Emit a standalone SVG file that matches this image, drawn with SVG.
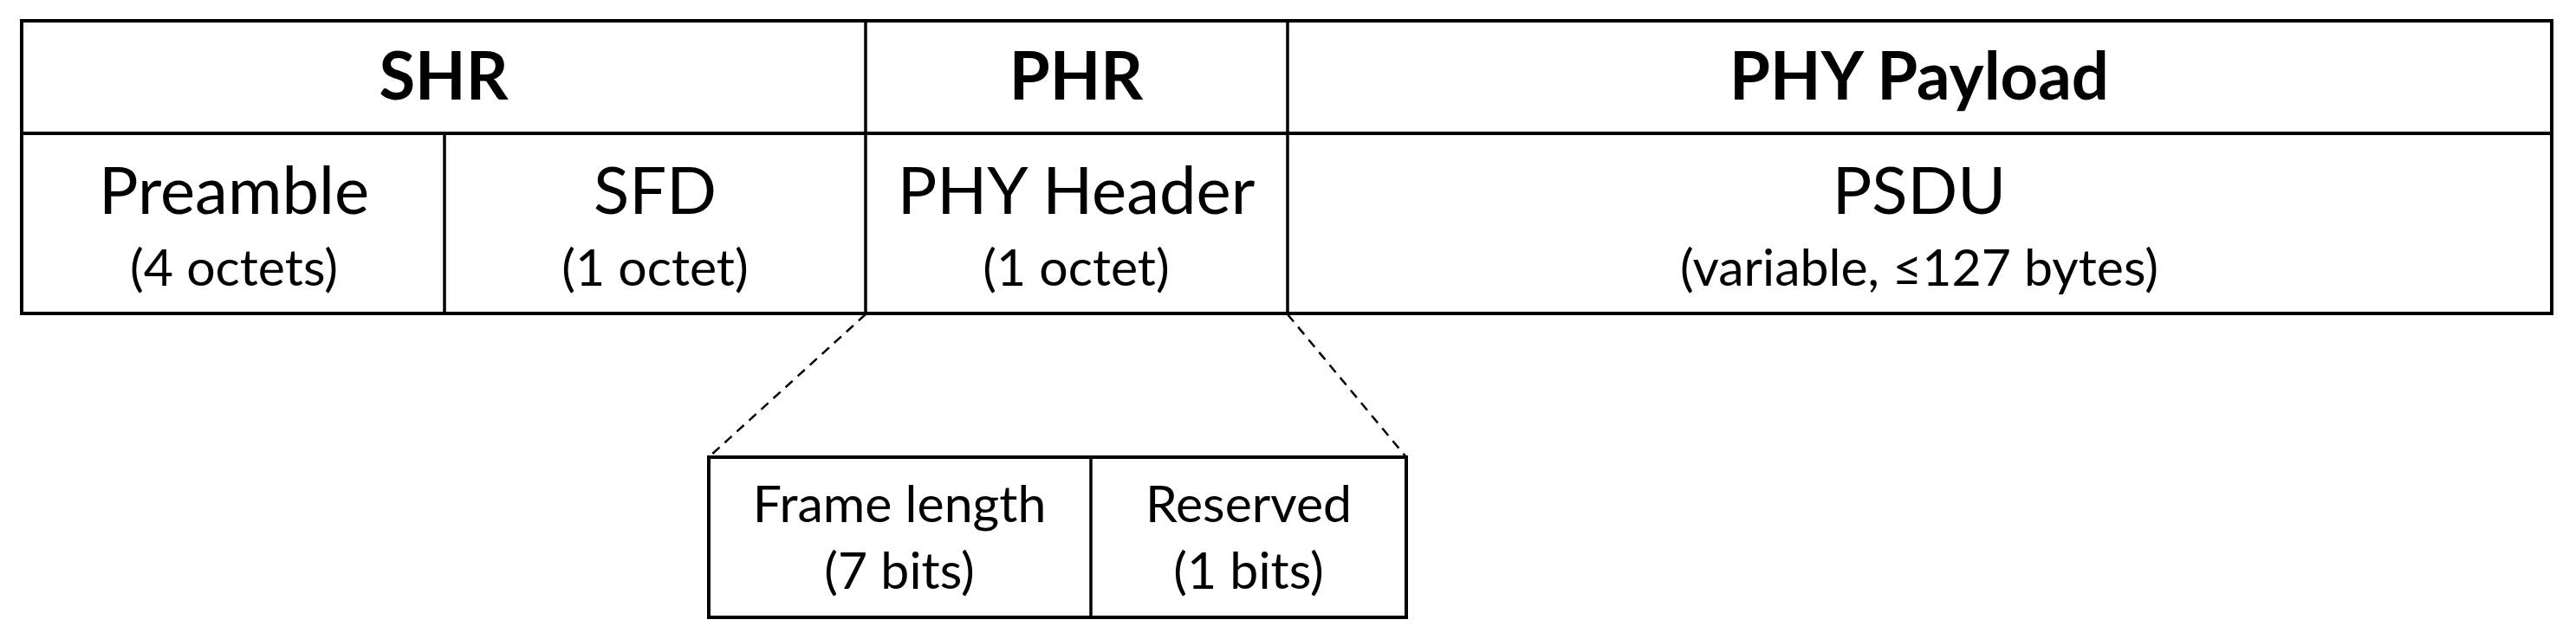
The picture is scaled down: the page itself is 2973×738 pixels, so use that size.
<svg xmlns="http://www.w3.org/2000/svg" width="2973" height="738" viewBox="0 0 2973 738">
  <style>
    .frame { fill: #ffffff; stroke: #000000; stroke-width: 4; }
    .div { stroke: #000000; stroke-width: 3.5; fill: none; }
    .dash { stroke: #000000; stroke-width: 2.5; stroke-dasharray: 11 8; fill: none; }
    text { font-family: Lato, "Liberation Sans", sans-serif; fill: #000000; text-anchor: middle; }
    .hdr { font-weight: bold; font-size: 76px; }
    .main { font-size: 76px; }
    .sub { font-size: 59px; }
  </style>
  <rect width="2973" height="738" fill="#ffffff"/>
  <g id="connectors">
    <line class="dash" x1="999" y1="363" x2="818" y2="528"/>
    <line class="dash" x1="1486" y1="363" x2="1623" y2="528"/>
  </g>
  <g id="table">
    <rect class="frame" x="25" y="24" width="2920" height="338"/>
    <line class="div" x1="25" y1="154" x2="2945" y2="154" style="stroke-width:4"/>
    <line class="div" x1="513" y1="154" x2="513" y2="362"/>
    <line class="div" x1="999" y1="24" x2="999" y2="362"/>
    <line class="div" x1="1486" y1="24" x2="1486" y2="362"/>
  </g>
  <g id="shr"><text class="hdr" x="512" y="115">SHR</text></g>
  <g id="phr"><text class="hdr" x="1242" y="115">PHR</text></g>
  <g id="phy-payload"><text class="hdr" x="2215" y="115">PHY Payload</text></g>
  <g id="preamble">
    <text class="main" x="270" y="247">Preamble</text>
    <text class="sub" x="270" y="330">(4 octets)</text>
  </g>
  <g id="sfd">
    <text class="main" x="756" y="247">SFD</text>
    <text class="sub" x="756" y="330">(1 octet)</text>
  </g>
  <g id="phy-header">
    <text class="main" x="1242" y="247">PHY Header</text>
    <text class="sub" x="1242" y="330">(1 octet)</text>
  </g>
  <g id="psdu">
    <text class="main" x="2215" y="247">PSDU</text>
    <text class="sub" x="2215" y="330">(variable, ≤127 bytes)</text>
  </g>
  <g id="phr-detail">
    <rect class="frame" x="818" y="528" width="805" height="185"/>
    <line class="div" x1="1259" y1="528" x2="1259" y2="713"/>
  </g>
  <g id="frame-length">
    <text class="sub" x="1038" y="603">Frame length</text>
    <text class="sub" x="1038" y="680">(7 bits)</text>
  </g>
  <g id="reserved">
    <text class="sub" x="1441" y="603">Reserved</text>
    <text class="sub" x="1441" y="680">(1 bits)</text>
  </g>
</svg>
